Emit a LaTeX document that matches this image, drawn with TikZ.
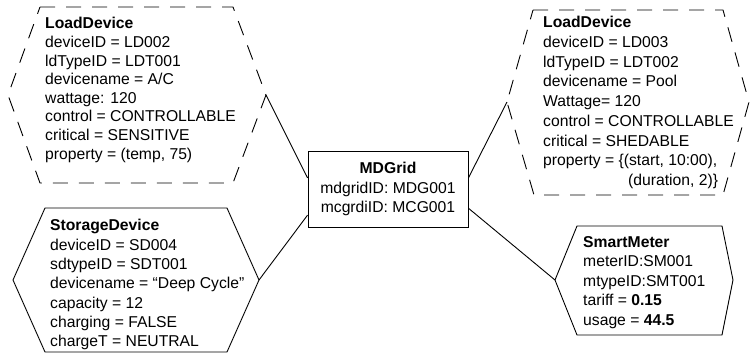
\documentclass[tikz,border=0pt]{standalone}
\usepackage{fontspec}
\setmainfont{Liberation Sans}
\usetikzlibrary{calc}
\begin{document}
\begin{tikzpicture}[x=1pt,y=-1pt,
  txt/.style={inner sep=0pt, anchor=north west, align=left},
  hexdash/.style={draw, line width=0.9pt, dash pattern=on 15pt off 11pt},
  hexsolid/.style={draw, line width=0.9pt},
  gridbox/.style={draw, line width=0.9pt, inner sep=0pt, minimum width=160pt, minimum height=76pt, align=center, font=\fontsize{15.7}{19.7}\selectfont},
  conn/.style={draw, line width=0.9pt}]
\useasboundingbox (0,0) rectangle (750,354);

% hexagon vertices
\coordinate (ldA-e) at (266,95);
\coordinate (ldA-w) at (8,95);
\coordinate (ldB-e) at (749,102);
\coordinate (ldB-w) at (507,102);
\coordinate (sd-e) at (259,280);
\coordinate (sd-w) at (13,280);
\coordinate (sm-e) at (733,280);
\coordinate (sm-w) at (555,280);

% hexagons
\draw[hexdash] (40,7) -- (233,7) -- (ldA-e) -- (233,183) -- (40,183) -- (ldA-w) -- cycle;
\draw[hexdash] (533,10) -- (723,10) -- (ldB-e) -- (723,195) -- (534,195) -- (ldB-w) -- cycle;
\draw[hexsolid] (45,208) -- (227,208) -- (sd-e) -- (227,352) -- (45,352) -- (sd-w) -- cycle;
\draw[hexsolid] (577,226) -- (722,226) -- (sm-e) -- (722,335) -- (577,335) -- (sm-w) -- cycle;

% texts
\node[txt, font=\fontsize{15.7}{18.6}\selectfont] (ldAtxt) at (45,17.3) {\textbf{LoadDevice}\\
deviceID = LD002\\
ldTypeID = LDT001\\
devicename = A/C\\
wattage: 120\\
control = CONTROLLABLE\\
critical = SENSITIVE\\
property = (temp, 75)};

\node[txt, font=\fontsize{15.7}{19.7}\selectfont] (ldBtxt) at (543,16.3) {\textbf{LoadDevice}\\
deviceID = LD003\\
ldTypeID = LDT002\\
devicename = Pool\\
Wattage= 120\\
control = CONTROLLABLE\\
critical = SHEDABLE\\
property = \{(start, 10:00),\\
\hspace*{85pt}(duration, 2)\}};

\node[txt, font=\fontsize{15.7}{19.3}\selectfont] (sdtxt) at (50,219.3) {\textbf{StorageDevice}\\
deviceID = SD004\\
sdtypeID = SDT001\\
devicename = “Deep Cycle”\\
capacity = 12\\
charging = FALSE\\
chargeT = NEUTRAL};

\node[txt, font=\fontsize{15.7}{19.4}\selectfont] (smtxt) at (583,236.3) {\textbf{SmartMeter}\\
meterID:SM001\\
mtypeID:SMT001\\
tariff = \textbf{0.15}\\
usage = \textbf{44.5}};

\node[gridbox] (grid) at (388,189) {\textbf{MDGrid}\\
mdgridID: MDG001\\
mcgrdiID: MCG001};

% connectors
\coordinate (gw1) at ($(grid.north west)!0.355!(grid.south west)$);
\coordinate (gw2) at ($(grid.north west)!0.84!(grid.south west)$);
\coordinate (ge1) at ($(grid.north east)!0.355!(grid.south east)$);
\coordinate (ge2) at ($(grid.north east)!0.75!(grid.south east)$);
\draw[conn] (ldA-e) -- (gw1);
\draw[conn] (sd-e) -- (gw2);
\draw[conn] (ldB-w) -- (ge1);
\draw[conn] (sm-w) -- (ge2);
\end{tikzpicture}
\end{document}
